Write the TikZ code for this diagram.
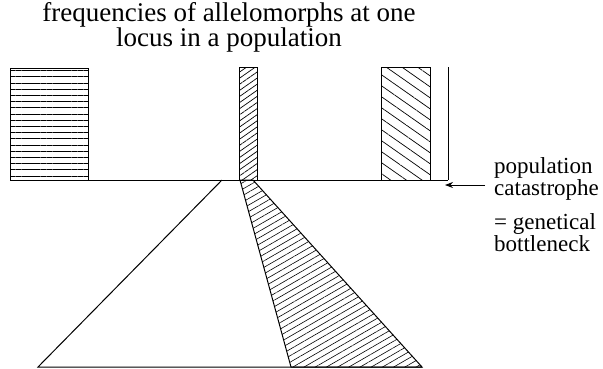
\documentclass[tikz,border=0pt]{standalone}
\usepackage{fontspec}
\setmainfont{Liberation Serif}
\usetikzlibrary{arrows.meta,patterns.meta}

\begin{document}
\begin{tikzpicture}[x=1pt, y=-1pt,
      font=\rmfamily\fontsize{23}{20}\selectfont,
      edge/.style={line width=1pt},
      flat/.style={pattern={Lines[angle=0, distance=6.2pt, line width=0.6pt]}},
      rise/.style={pattern={Lines[angle=35, distance=5pt, line width=0.7pt]}},
      fall/.style={pattern={Lines[angle=-35, distance=9pt, line width=0.7pt]}},
      wedge/.style={pattern={Lines[angle=30, distance=5.6pt, line width=0.6pt]}},
      lbl/.style={align=left, inner sep=0pt, anchor=north west},
      arr/.style={-{Stealth[length=8pt, width=6pt]}, line width=0.8pt},
    ]
    \useasboundingbox (0,0) rectangle (603,368);
    % title
    \node[align=center, inner sep=0pt, font=\rmfamily\fontsize{27}{25}\selectfont] (title) at (229,27)
      {frequencies of allelomorphs at one\\locus in a population};
    % allelomorph bars
    \draw[edge, flat] (10,68) rectangle (88,180);
    \draw[edge, rise] (239,67) rectangle (257,180);
    \draw[edge, fall] (381,67) rectangle (430,180);
    \draw[edge] (448,67) -- (448,180);
    \draw[edge] (10,180) -- (448,180);
    % after the bottleneck
    \draw[edge] (222,180) -- (38,367) -- (422,367);
    \draw[edge, wedge] (240,180) -- (253,180) -- (422,367) -- (291,367) -- cycle;
    % labels
    \node[lbl] (cat) at (494,157) {population\\catastrophe};
    \node[lbl] (neck) at (494,213) {= genetical\\bottleneck};
    \coordinate (tail) at (485,185);
    \coordinate (hit) at (445,185);
    \draw[arr] (tail) -- (hit);
\end{tikzpicture}
\end{document}
